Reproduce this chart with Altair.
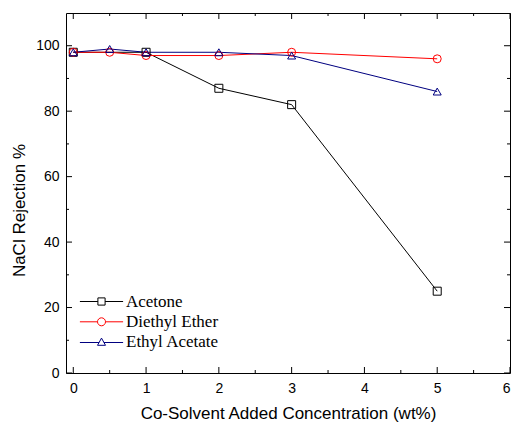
import altair as alt
import pandas as pd

# ---- data ----
series_names = ["Acetone", "Diethyl Ether", "Ethyl Acetate"]
acetone_x = [0, 1, 2, 3, 5]
acetone_y = [98, 98, 87, 82, 25]
ether_x = [0, 0.5, 1, 2, 3, 5]
ether_y = [98, 98, 97, 97, 98, 96]
acetate_x = [0, 0.5, 1, 2, 3, 5]
acetate_y = [98, 99, 98, 98, 97, 86]

x_major = [0, 1, 2, 3, 4, 5, 6]
x_minor = [0.5, 1.5, 2.5, 3.5, 4.5, 5.5]
y_major = [0, 20, 40, 60, 80, 100]
y_minor = [10, 30, 50, 70, 90]

colors = ["#000000", "#FF0000", "#000080"]
plot_shapes = ["square", "circle", "triangle-up"]
legend_shapes = [
    "M-5.4,0H-0.9M0.9,0H5.4M-0.9,-0.9H0.9V0.9H-0.9Z",
    "M-5.4,0H-1M1,0H5.4M-1,0A1,1 0 1,0 1,0A1,1 0 1,0 -1,0Z",
    "M-5.4,0.1H-0.6M0.6,0.1H5.4M0,-1L1,0.8H-1Z",
]

W, H = 444, 360
MAJ, MIN = 6, 3

rows = []
for name, xs, ys in [(series_names[0], acetone_x, acetone_y),
                     (series_names[1], ether_x, ether_y),
                     (series_names[2], acetate_x, acetate_y)]:
    for xv, yv in zip(xs, ys):
        rows.append({"series": name, "x": xv, "y": yv})
df = pd.DataFrame(rows)

xscale = alt.Scale(domain=[-0.1, 6], nice=False, zero=False)
yscale = alt.Scale(domain=[0, 110], nice=False, zero=False)


def color_enc(legend=None):
    return alt.Color("series:N",
                     scale=alt.Scale(domain=series_names, range=colors),
                     legend=legend)


base = alt.Chart(df)

lines = base.mark_line(strokeWidth=1).encode(
    x=alt.X("x:Q", scale=xscale,
            axis=alt.Axis(values=x_major, title="Co-Solvent Added Concentration (wt%)",
                          format="d")),
    y=alt.Y("y:Q", scale=yscale,
            axis=alt.Axis(values=y_major, title="NaCl Rejection %", format="d",
                          titleY=197)),
    color=color_enc(),
    order="x:Q",
)

points = base.mark_point(filled=False, size=64, strokeWidth=1, opacity=1).encode(
    x=alt.X("x:Q", scale=xscale),
    y=alt.Y("y:Q", scale=yscale),
    color=color_enc(),
    shape=alt.Shape("series:N",
                    scale=alt.Scale(domain=series_names, range=plot_shapes),
                    legend=None),
)

leg = alt.Legend(title=None, orient="none", legendX=27, legendY=280,
                 symbolSize=64, symbolStrokeWidth=1, symbolOpacity=1,
                 labelFont="Liberation Serif", labelFontSize=17, labelColor="black",
                 labelOffset=16, rowPadding=2.3, padding=0)

legend_layer = base.mark_point(filled=False, opacity=0, size=64).encode(
    x=alt.X("x:Q", scale=xscale),
    y=alt.Y("y:Q", scale=yscale),
    color=color_enc(leg),
    shape=alt.Shape("series:N",
                    scale=alt.Scale(domain=series_names, range=legend_shapes),
                    legend=leg),
)

xmaj = pd.DataFrame({"v": x_major})
xmin = pd.DataFrame({"v": x_minor})
ymaj = pd.DataFrame({"v": y_major})
ymin = pd.DataFrame({"v": y_minor})


def vticks(d, length):
    bottom = alt.Chart(d).mark_rule(color="black", strokeWidth=1).encode(
        x=alt.X("v:Q", scale=xscale),
        y=alt.value(H), y2=alt.value(H - length))
    top = alt.Chart(d).mark_rule(color="black", strokeWidth=1).encode(
        x=alt.X("v:Q", scale=xscale),
        y=alt.value(0), y2=alt.value(length))
    return [bottom, top]


def hticks(d, length):
    left = alt.Chart(d).mark_rule(color="black", strokeWidth=1).encode(
        y=alt.Y("v:Q", scale=yscale),
        x=alt.value(0), x2=alt.value(length))
    right = alt.Chart(d).mark_rule(color="black", strokeWidth=1).encode(
        y=alt.Y("v:Q", scale=yscale),
        x=alt.value(W), x2=alt.value(W - length))
    return [left, right]


tick_layers = vticks(xmaj, MAJ) + vticks(xmin, MIN) + hticks(ymaj, MAJ) + hticks(ymin, MIN)

chart = alt.layer(lines, points, legend_layer, *tick_layers).resolve_scale(
    color="independent", shape="independent"
).properties(
    width=W, height=H,
    autosize=alt.AutoSizeParams(type="none"),
    padding={"left": 66, "top": 13, "right": 2, "bottom": 50},
    background="white",
).configure_view(
    stroke="black", strokeWidth=1
).configure_axis(
    domain=False, ticks=False, grid=False,
    labelFont="Liberation Sans", labelFontSize=14, labelColor="black",
    titleFont="Liberation Sans", titleFontSize=17, titleFontWeight="normal",
    titleColor="black",
).configure_axisX(
    labelPadding=8, titlePadding=10,
).configure_axisY(
    labelPadding=7, titlePadding=7,
)

chart.save("out.html", embed_options={"renderer": "svg", "actions": False})
